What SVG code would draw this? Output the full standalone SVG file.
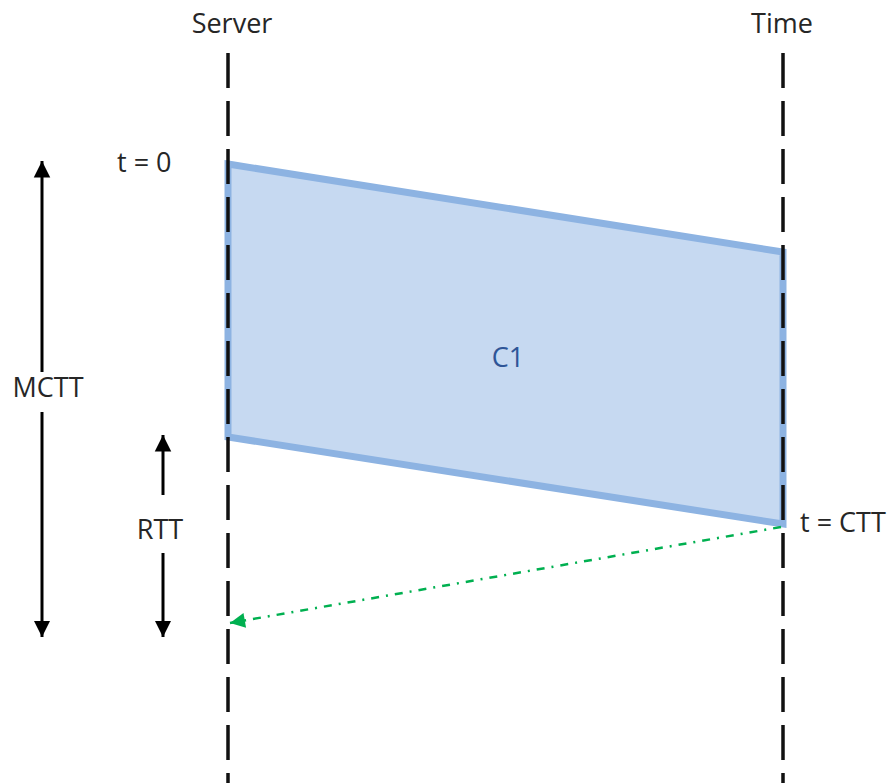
<svg xmlns="http://www.w3.org/2000/svg" width="892" height="783" viewBox="0 0 892 783">
<style>
text{font-family:"Open Sans","Liberation Sans",sans-serif;font-size:27px;fill:#262626}
.life{stroke:#111;stroke-width:3.5;stroke-dasharray:35 13;fill:none}
.dim{stroke:#000;stroke-width:3;fill:none}
</style>
<defs>
<marker id="ah" viewBox="0 0 10 10" refX="10" refY="5" markerWidth="5.5" markerHeight="6" markerUnits="strokeWidth" orient="auto"><path d="M0,0L10,5L0,10z" fill="#000"/></marker>
<marker id="gh" viewBox="0 0 10 10" refX="10" refY="5" markerWidth="6.5" markerHeight="6" markerUnits="strokeWidth" orient="auto"><path d="M0,0L10,5L0,10z" fill="#00B050"/></marker>
</defs>
<rect width="892" height="783" fill="#fff"/>
<g id="c1">
<polygon points="228,164 783,252 783,524 228,437" fill="#C6D9F1" stroke="#8DB3E2" stroke-width="7"/>
<text x="508" y="367" text-anchor="middle" style="fill:#2E5597">C1</text>
</g>
<g id="server">
<text x="232" y="33" text-anchor="middle">Server</text>
<line class="life" x1="228" y1="53" x2="228" y2="783"/>
</g>
<g id="time">
<text x="782" y="33" text-anchor="middle">Time</text>
<line class="life" x1="783" y1="53" x2="783" y2="783"/>
</g>
<g id="labels">
<text x="117" y="172">t = 0</text>
<text x="800" y="532">t = CTT</text>
<text x="48" y="397" text-anchor="middle">MCTT</text>
<text x="160" y="539" text-anchor="middle">RTT</text>
</g>
<g id="connectors">
<line class="dim" x1="42" y1="372" x2="42" y2="161" marker-end="url(#ah)"/>
<line class="dim" x1="42" y1="412" x2="42" y2="637" marker-end="url(#ah)"/>
<line class="dim" x1="163" y1="495" x2="163" y2="435" marker-end="url(#ah)"/>
<line class="dim" x1="163" y1="553" x2="163" y2="637" marker-end="url(#ah)"/>
<line x1="781" y1="527" x2="230" y2="623" stroke="#00B050" stroke-width="2.5" stroke-dasharray="8 7 2 7" marker-end="url(#gh)"/>
</g>
</svg>
